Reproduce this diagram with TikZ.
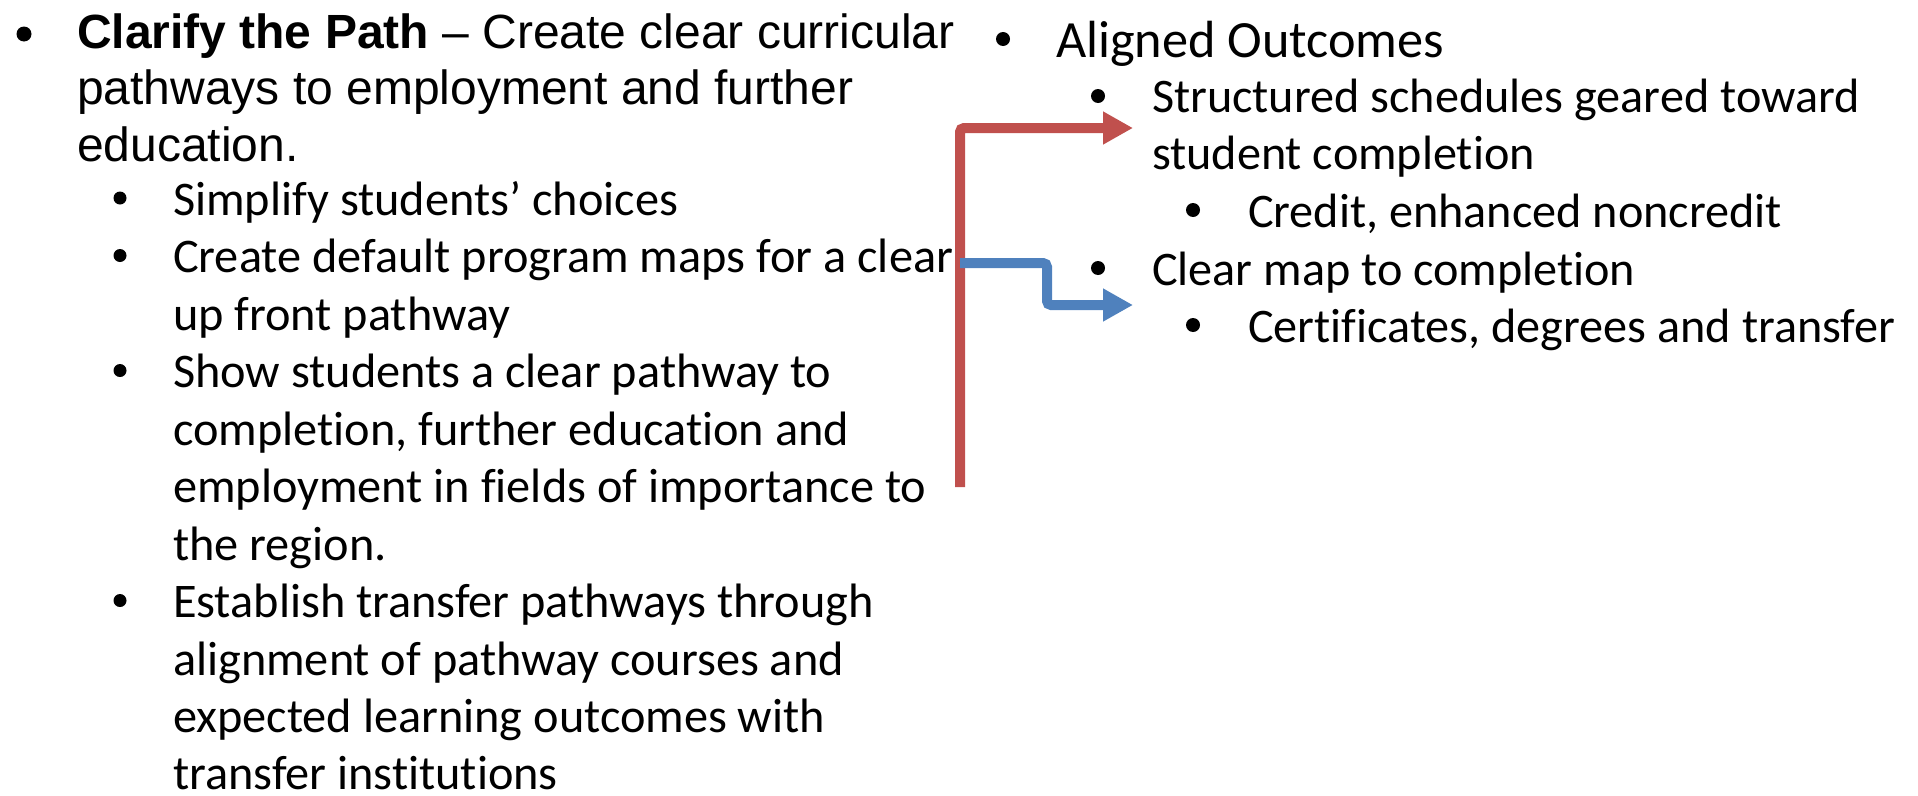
\documentclass[tikz,border=0pt]{standalone}
\usepackage{fontspec}
\setmainfont[Ligatures={NoCommon}]{Carlito}
\newfontfamily\arialf[Ligatures={NoCommon}]{Liberation Sans}
\usetikzlibrary{arrows.meta}
\definecolor{ored}{HTML}{C0504D}
\definecolor{oblue}{HTML}{4F81BD}
\begin{document}
\begin{tikzpicture}[x=1pt,y=-1pt,
  txt/.style={anchor=base west, inner sep=0pt, outer sep=0pt},
  lone/.style={txt, font=\arialf\fontsize{48}{56}\selectfont},
  ltwo/.style={txt, font=\fontsize{48.3}{57.5}\selectfont},
  rone/.style={txt, font=\fontsize{52.3}{60}\selectfont},
  rtwo/.style={txt, font=\fontsize{48.2}{57.5}\selectfont},
  bul/.style={fill=black},
  conn/.style={line width=10pt, rounded corners=4pt, -{Triangle[length=30pt,width=31pt]}}
]
\useasboundingbox (0,0) rectangle (1918,795);
% left column
\fill[bul] (24,34) circle (7.5);
\node[lone] (a1) at (77,48) {\textbf{Clarify the Path} – Create clear curricular};
\node[lone] (a2) at (77,104.5) {pathways to employment and further};
\node[lone] (a3) at (77,161) {education.};
\foreach \y in {198,255.5,370.5,600.5} \fill[bul] (120,\y) circle (6.5);
\node[ltwo] (b1) at (173,215) {Simplify students’ choices};
\node[ltwo] (b2) at (173,272.5) {Create default program maps for a clear};
\node[ltwo] (b3) at (173,330) {up front pathway};
\node[ltwo] (b4) at (173,387.5) {Show students a clear pathway to};
\node[ltwo] (b5) at (173,445) {completion, further education and};
\node[ltwo] (b6) at (173,502.5) {employment in fields of importance to};
\node[ltwo] (b7) at (173,560) {the region.};
\node[ltwo] (b8) at (173,617.5) {Establish transfer pathways through};
\node[ltwo] (b9) at (173,675) {alignment of pathway courses and};
\node[ltwo] (b10) at (173,732.5) {expected learning outcomes with};
\node[ltwo] (b11) at (173,789.5) {transfer institutions};
% right column
\fill[bul] (1003,39) circle (7);
\node[rone] (c1) at (1056,57) {Aligned Outcomes};
\fill[bul] (1098,96) circle (7);
\node[rtwo] (d1) at (1152,112) {Structured schedules geared toward};
\node[rtwo] (d2) at (1152,169.5) {student completion};
\fill[bul] (1193,210) circle (7);
\node[rtwo] (e1) at (1248,227) {Credit, enhanced noncredit};
\fill[bul] (1098,268) circle (7);
\node[rtwo] (d3) at (1152,285) {Clear map to completion};
\fill[bul] (1193,325) circle (7);
\node[rtwo] (e2) at (1248,342) {Certificates, degrees and transfer};
% connectors
\coordinate (rs) at (960,487);
\coordinate (rt) at (1133,128);
\coordinate (bs) at (960,263);
\coordinate (bm) at (1047,263);
\coordinate (bt) at (1133,305);
\draw[conn, ored] (rs) |- (rt);
\draw[conn, oblue] (bs) -- (bm) |- (bt);
\end{tikzpicture}
\end{document}
